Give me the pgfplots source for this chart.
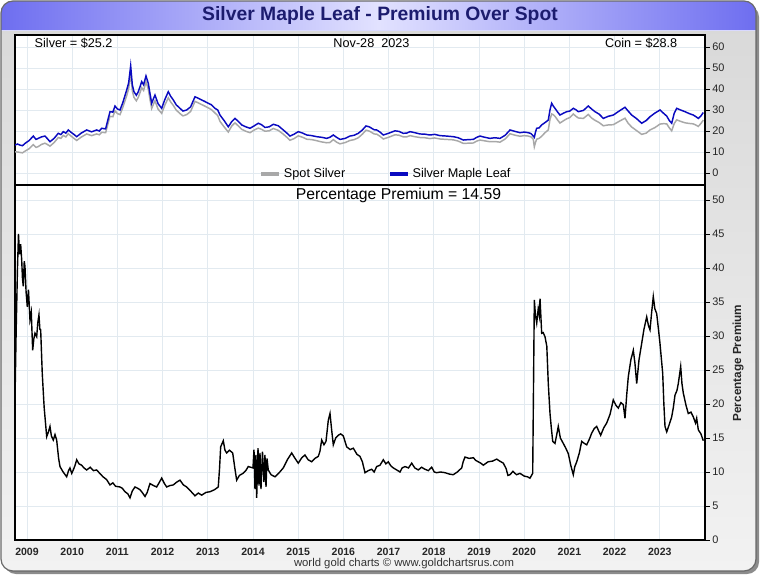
\documentclass[border=0pt]{standalone}
\usepackage{pgfplots}
\pgfplotsset{compat=1.18}
\usepackage{pgfplotstable}
\usepackage{fontspec}
\setmainfont{Liberation Sans}
\definecolor{gridc}{HTML}{E2EAF0}
\definecolor{coinblue}{HTML}{0A0AC0}
\definecolor{spotgray}{HTML}{A8A8A8}
\definecolor{titleblue}{HTML}{1C1C6E}
\definecolor{barblue}{HTML}{6E6EF0}
\definecolor{barlight}{HTML}{E2E2FF}
\definecolor{framec}{HTML}{6A6A6A}
\definecolor{bgtop}{HTML}{D8D8D8}
\definecolor{bgbot}{HTML}{F2F2F2}

\pgfplotstableread{
x blue gray
2008.735 13.3 10.1
2008.79 13.8 10.0
2008.845 13.3 9.8
2008.90 13.0 9.6
2008.956 14.1 10.4
2009.05 15.5 11.6
2009.139 17.6 13.5
2009.20 16.0 12.2
2009.250 16.5 12.6
2009.32 17.2 13.6
2009.398 17.6 14.2
2009.45 16.4 13.6
2009.509 14.9 12.8
2009.60 16.5 14.5
2009.692 18.9 16.9
2009.75 18.3 16.5
2009.803 19.7 17.9
2009.86 19.0 17.2
2009.914 20.5 18.7
2009.98 19.3 17.5
2010.05 18.2 16.3
2010.100 17.3 15.5
2010.20 19.0 17.1
2010.321 20.5 18.6
2010.43 19.6 17.8
2010.542 20.5 18.6
2010.60 20.0 18.2
2010.653 21.3 19.4
2010.74 21.0 19.2
2010.836 29.2 27.0
2010.90 29.0 26.8
2010.947 31.9 29.6
2011.00 30.5 28.3
2011.058 30.0 27.8
2011.12 33.5 31.2
2011.206 39.5 36.8
2011.25 43.0 40.2
2011.294 51.0 47.9
2011.33 42.0 39.2
2011.367 38.7 36.0
2011.42 37.0 34.4
2011.462 38.7 36.0
2011.50 41.0 38.2
2011.538 43.5 40.6
2011.58 42.0 39.3
2011.633 46.2 43.4
2011.684 42.7 39.9
2011.72 38.0 35.2
2011.759 33.2 30.7
2011.80 35.5 32.9
2011.832 37.1 34.4
2011.90 33.0 30.4
2011.980 30.8 28.4
2012.05 35.0 32.3
2012.126 38.7 35.8
2012.18 36.5 33.8
2012.237 34.8 32.2
2012.30 32.5 30.0
2012.385 30.8 28.3
2012.45 29.5 27.2
2012.533 30.0 27.8
2012.62 31.5 29.3
2012.717 36.3 34.1
2012.80 35.5 33.3
2012.865 34.8 32.6
2012.94 34.0 31.8
2013.011 33.2 31.0
2013.08 32.5 30.2
2013.159 30.8 28.6
2013.22 30.0 27.3
2013.270 27.6 24.6
2013.36 25.0 22.0
2013.454 22.0 19.5
2013.53 24.5 22.4
2013.602 26.0 23.9
2013.68 24.5 22.3
2013.750 22.9 20.8
2013.84 22.0 19.9
2013.934 21.3 19.2
2014.03 22.5 20.5
2014.117 23.7 21.4
2014.19 23.0 20.8
2014.265 21.7 19.9
2014.36 22.0 20.1
2014.449 23.2 21.2
2014.56 22.5 20.3
2014.670 20.5 18.5
2014.75 19.0 17.0
2014.819 17.6 15.6
2014.91 18.5 16.4
2015.002 19.7 17.7
2015.10 19.0 17.0
2015.188 18.1 16.1
2015.30 17.8 15.9
2015.409 17.3 15.4
2015.52 17.0 14.8
2015.631 16.5 14.4
2015.70 17.0 14.5
2015.777 18.1 15.9
2015.85 17.0 14.7
2015.925 16.0 13.9
2016.04 16.5 14.5
2016.146 17.6 15.5
2016.24 18.0 15.9
2016.330 18.9 16.8
2016.42 20.5 18.5
2016.500 22.4 20.4
2016.57 22.0 20.0
2016.626 21.3 19.3
2016.68 20.6 18.6
2016.737 20.5 18.5
2016.81 19.5 17.5
2016.883 18.1 16.2
2017.01 19.0 17.1
2017.142 20.1 18.2
2017.23 19.8 18.0
2017.325 18.9 17.2
2017.40 19.0 17.2
2017.473 19.7 17.8
2017.58 19.2 17.3
2017.695 18.6 16.9
2017.80 18.5 16.8
2017.916 18.1 16.4
2018.02 18.4 16.7
2018.137 17.8 16.2
2018.28 17.6 16.0
2018.431 17.3 15.8
2018.54 16.8 15.2
2018.653 15.7 14.1
2018.76 15.9 14.2
2018.874 16.0 14.3
2018.95 17.0 15.2
2019.022 17.6 15.7
2019.13 17.0 15.3
2019.243 16.5 14.9
2019.35 16.8 15.0
2019.465 16.5 14.7
2019.58 18.0 16.2
2019.686 20.5 18.7
2019.80 19.8 18.0
2019.907 19.2 17.5
2020.00 19.5 17.8
2020.091 19.2 17.6
2020.15 18.8 17.2
2020.201 17.6 16.1
2020.224 17.0 12.5
2020.25 19.5 14.6
2020.276 21.3 16.1
2020.33 21.5 16.5
2020.387 22.9 17.5
2020.46 24.0 19.2
2020.533 25.2 20.5
2020.57 30.0 25.5
2020.608 33.2 28.1
2020.64 32.0 27.8
2020.681 30.8 27.0
2020.74 29.0 25.2
2020.792 27.6 23.8
2020.87 28.5 24.9
2020.940 29.2 25.8
2021.01 29.5 26.4
2021.086 30.8 28.1
2021.14 30.2 27.1
2021.197 29.2 26.2
2021.31 29.8 26.0
2021.418 31.9 27.9
2021.49 30.5 26.2
2021.566 29.2 25.1
2021.66 28.0 24.0
2021.750 26.0 22.5
2021.86 27.0 22.9
2021.971 27.6 23.0
2022.10 29.5 24.6
2022.230 31.3 26.1
2022.30 29.5 23.7
2022.378 27.6 21.9
2022.48 26.0 20.3
2022.599 23.7 18.4
2022.70 25.0 19.0
2022.783 26.8 20.5
2022.89 28.5 21.6
2023.004 30.0 23.3
2023.08 28.5 23.5
2023.153 27.1 23.4
2023.21 25.0 21.5
2023.263 23.7 20.1
2023.32 28.5 23.6
2023.374 30.8 25.3
2023.46 30.0 24.6
2023.558 29.2 23.9
2023.65 28.3 23.6
2023.741 27.6 23.4
2023.80 26.8 22.8
2023.852 26.0 22.2
2023.91 27.2 23.6
2023.962 28.8 25.2
}\topdata

\pgfplotstableread{
x p
2008.735 20.6
2008.760 30.5
2008.790 40.0
2008.812 45.0
2008.835 42.0
2008.860 43.5
2008.883 41.2
2008.900 38.5
2008.918 37.3
2008.940 41.0
2008.956 40.2
2008.980 36.5
2009.007 34.3
2009.033 36.8
2009.066 32.4
2009.095 33.5
2009.126 27.9
2009.150 29.5
2009.177 30.4
2009.215 29.9
2009.240 32.0
2009.265 33.1
2009.285 31.0
2009.303 30.9
2009.338 24.5
2009.380 19.5
2009.436 15.2
2009.470 15.8
2009.509 16.7
2009.540 15.3
2009.582 14.7
2009.620 15.5
2009.657 14.7
2009.700 12.0
2009.730 10.8
2009.800 10.0
2009.878 9.3
2009.920 10.2
2009.951 10.6
2009.990 9.8
2010.024 10.3
2010.060 10.9
2010.100 11.8
2010.150 11.2
2010.210 11.0
2010.260 10.6
2010.321 10.3
2010.400 10.7
2010.470 10.2
2010.542 10.3
2010.610 9.8
2010.681 9.3
2010.760 8.9
2010.836 8.1
2010.900 8.4
2010.960 7.9
2011.058 7.8
2011.110 7.6
2011.168 7.1
2011.230 6.8
2011.279 6.2
2011.330 7.2
2011.389 7.8
2011.450 7.6
2011.500 7.4
2011.560 6.9
2011.611 6.4
2011.660 7.0
2011.721 8.3
2011.800 8.0
2011.869 7.8
2011.930 8.5
2011.980 9.1
2012.040 8.3
2012.091 7.8
2012.160 8.0
2012.237 8.1
2012.310 8.5
2012.385 8.8
2012.460 8.1
2012.533 7.8
2012.620 7.2
2012.717 6.5
2012.790 6.9
2012.865 6.6
2012.960 7.0
2013.049 7.1
2013.150 7.4
2013.232 7.8
2013.260 10.5
2013.285 13.7
2013.343 14.6
2013.380 13.2
2013.418 12.8
2013.480 13.2
2013.551 12.8
2013.600 10.5
2013.639 8.8
2013.700 9.5
2013.779 9.8
2013.840 10.2
2013.896 10.8
2014.000 10.6
2014.022 13.3
2014.044 7.5
2014.066 12.5
2014.082 6.2
2014.111 13.5
2014.133 8.0
2014.155 12.8
2014.177 7.5
2014.210 13.0
2014.243 8.5
2014.265 12.5
2014.288 7.8
2014.310 12.0
2014.338 10.3
2014.400 9.6
2014.487 9.3
2014.580 9.9
2014.670 10.6
2014.760 11.8
2014.856 12.8
2014.930 12.0
2015.002 11.3
2015.080 12.1
2015.150 12.5
2015.220 11.8
2015.299 11.5
2015.370 12.0
2015.445 12.3
2015.480 13.0
2015.520 14.7
2015.570 14.0
2015.615 14.5
2015.640 16.0
2015.666 17.6
2015.704 18.6
2015.740 16.2
2015.777 14.0
2015.830 15.0
2015.887 15.4
2015.940 15.6
2015.998 15.3
2016.073 13.7
2016.150 13.3
2016.219 13.5
2016.300 12.6
2016.367 12.3
2016.420 11.5
2016.478 9.9
2016.550 10.2
2016.626 10.4
2016.680 10.0
2016.737 10.8
2016.810 11.0
2016.883 11.8
2016.940 11.2
2016.993 11.5
2017.050 10.9
2017.104 10.6
2017.180 10.3
2017.252 10.0
2017.300 10.6
2017.363 10.8
2017.440 10.6
2017.511 11.3
2017.580 10.6
2017.657 10.3
2017.730 10.7
2017.805 10.4
2017.880 10.2
2017.954 10.7
2018.010 10.0
2018.064 9.9
2018.150 10.0
2018.248 9.9
2018.340 9.7
2018.431 9.6
2018.520 10.0
2018.617 10.6
2018.650 11.5
2018.690 12.2
2018.780 12.0
2018.874 12.1
2018.930 11.7
2018.985 11.5
2019.040 11.3
2019.095 11.0
2019.200 11.5
2019.300 11.6
2019.392 11.9
2019.460 11.6
2019.538 11.3
2019.600 10.5
2019.640 9.5
2019.686 9.6
2019.750 10.1
2019.830 9.6
2019.907 9.8
2020.000 9.4
2020.070 9.3
2020.128 9.1
2020.188 9.8
2020.224 35.3
2020.250 33.0
2020.277 31.9
2020.310 34.0
2020.335 33.0
2020.350 35.5
2020.387 30.4
2020.420 30.5
2020.460 29.9
2020.500 28.5
2020.533 23.0
2020.571 18.6
2020.600 16.5
2020.631 14.5
2020.681 14.2
2020.720 15.5
2020.754 16.7
2020.800 15.0
2020.865 14.2
2020.920 13.5
2020.976 12.7
2021.030 11.0
2021.086 9.6
2021.120 10.8
2021.162 11.5
2021.220 12.8
2021.272 14.5
2021.330 14.2
2021.383 14.0
2021.440 14.8
2021.493 15.7
2021.550 16.4
2021.604 16.7
2021.650 16.0
2021.692 15.4
2021.760 16.5
2021.825 17.2
2021.900 18.5
2021.971 20.6
2022.030 19.8
2022.082 19.4
2022.140 20.2
2022.192 19.9
2022.230 17.9
2022.270 21.5
2022.303 24.0
2022.360 26.5
2022.414 27.9
2022.450 26.0
2022.489 23.0
2022.540 26.5
2022.599 28.9
2022.650 31.0
2022.710 32.8
2022.750 31.5
2022.783 30.9
2022.820 33.5
2022.856 35.8
2022.890 34.0
2022.931 33.3
2022.970 31.0
2023.004 28.9
2023.064 24.5
2023.090 20.0
2023.115 16.7
2023.153 15.9
2023.210 17.0
2023.263 18.1
2023.300 19.5
2023.336 21.3
2023.380 22.0
2023.409 23.0
2023.462 25.5
2023.490 23.0
2023.520 21.6
2023.580 19.8
2023.630 18.6
2023.690 18.8
2023.741 18.1
2023.790 17.2
2023.816 17.9
2023.852 16.2
2023.910 15.6
2023.962 14.6
}\premdata

\pgfplotsset{
  panel/.style={
    scale only axis, width=517.5pt,
    xmin=2008.735, xmax=2024.0,
    xtick={2009,2010,2011,2012,2013,2014,2015,2016,2017,2018,2019,2020,2021,2022,2023},
    grid=major,
    major grid style={gridc, line width=0.6pt},
    axis line style={black, line width=0.9pt},
    ytick pos=right, yticklabel pos=right,
    tick align=outside,
    major tick length=3.5pt,
    xtick style={draw=none},
    ytick style={black, line width=0.5pt},
    yticklabel style={font=\fontsize{8.2}{9}\selectfont, text=black!85, xshift=-1.5pt},
    /pgf/number format/assume math mode=true,
    /pgf/number format/1000 sep={},
    axis background/.style={fill=white},
  }
}

\begin{document}
\begin{tikzpicture}
\begin{scope}[x=0.75pt,y=-0.75pt]
\path[use as bounding box] (0,0) rectangle (760,575);
\fill[black!45, rounded corners=9] (4,5) rectangle (759,574);
\fill[top color=bgtop, bottom color=bgbot, rounded corners=9] (1,1) rectangle (756,571);
\begin{scope}
\clip[rounded corners=9] (1,1) rectangle (756,571);
\shade[left color=barblue, right color=barblue, middle color=barlight] (1,1) rectangle (756,30);
\draw[white!85!blue, line width=0.75pt] (1,30.5) -- (756,30.5);
\end{scope}
\draw[framec, line width=0.9pt, rounded corners=9] (1,1) rectangle (756,571);
\node[font=\bfseries\fontsize{14.5}{16}\selectfont, text=titleblue] at (380,16) {Silver Maple Leaf - Premium Over Spot};
\end{scope}

\begin{axis}[panel, at={(11.25pt,-26.25pt)}, anchor=north west, height=112.5pt,
  ymin=-5.7, ymax=65.7, ytick={0,10,...,60}, xticklabels={},
  legend style={at={(0.538,0.005)}, anchor=south, draw=none, fill=none,
    legend columns=2, font=\fontsize{9.5}{11}\selectfont, inner sep=1pt,
    /tikz/every even column/.append style={column sep=30pt}},
  legend image code/.code={\draw[line width=3pt] (0pt,0pt) -- (13.5pt,0pt);},
  legend cell align=left]
\addplot[spotgray, line width=1.1pt] table[x=x, y=gray] {\topdata};
\addlegendentry{Spot Silver}
\addplot[coinblue, line width=1.1pt] table[x=x, y=blue] {\topdata};
\addlegendentry{Silver Maple Leaf}
\end{axis}

\begin{axis}[panel, at={(11.25pt,-138.75pt)}, anchor=north west, height=266.25pt,
  ymin=0, ymax=52.2, ytick={0,5,...,50},
  xticklabels={2009,2010,2011,2012,2013,2014,2015,2016,2017,2018,2019,2020,2021,2022,2023},
  xticklabel style={font=\bfseries\fontsize{7.9}{9}\selectfont, text=black!85, yshift=1pt}]
\addplot[black, line width=1.05pt] table[x=x, y=p] {\premdata};
\end{axis}

\begin{scope}[x=0.75pt,y=-0.75pt]
\node[anchor=west, font=\fontsize{9.5}{11}\selectfont] at (30,43) {Silver = \$25.2};
\node[font=\fontsize{9.5}{11}\selectfont] at (371.5,43) {Nov-28\ \ 2023};
\node[anchor=east, font=\fontsize{9.5}{11}\selectfont] at (682,43) {Coin = \$28.8};
\node[font=\fontsize{11.8}{13}\selectfont] at (398.5,195) {Percentage Premium = 14.59};
\node[rotate=90, font=\bfseries\fontsize{8.8}{10}\selectfont, text=black!85] at (738,363) {Percentage Premium};
\node[font=\fontsize{8.5}{10}\selectfont, text=black!80] at (404,564) {world gold charts © www.goldchartsrus.com};
\end{scope}
\end{tikzpicture}
\end{document}
